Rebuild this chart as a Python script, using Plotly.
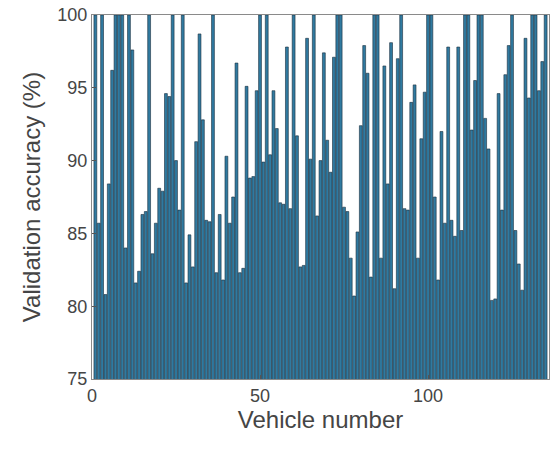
import plotly.graph_objects as go

accuracy = [
    # 1-25
    100, 85.7, 100, 80.8, 88.4, 96.2, 100, 100, 100, 84.0,
    100, 97.6, 81.6, 82.4, 86.3, 86.5, 100, 83.6, 85.7, 88.1,
    87.9, 94.6, 94.4, 100, 90.0,
    # 26-55
    86.6, 100, 81.6, 84.9, 82.7, 91.3, 98.7, 92.8, 85.9, 85.8,
    100, 82.3, 86.3, 81.8, 90.3, 85.7, 87.5, 96.7, 82.3, 82.6,
    95.1, 88.8, 88.9, 94.8, 100, 89.9, 100, 90.4, 94.8, 92.2,
    # 56-84
    87.1, 87.0, 97.8, 86.7, 100, 91.7, 82.7, 82.8, 98.4, 90.1,
    100, 86.2, 90.0, 97.4, 91.4, 89.2, 97.1, 100, 100, 86.8,
    86.5, 83.3, 80.7, 85.1, 92.4, 97.9, 96.0, 82.0, 100,
    # 85-111
    100, 83.3, 96.5, 88.4, 98.1, 81.2, 97.0, 100, 86.7, 86.6,
    94.0, 95.2, 83.3, 91.5, 94.7, 100, 100, 87.5, 81.8, 92.0,
    85.7, 97.8, 85.9, 84.8, 97.8, 85.2, 100,
    # 112-135
    100, 92.1, 95.5, 100, 100, 92.9, 90.8, 80.4, 80.5, 94.6,
    86.6, 95.9, 97.9, 100, 85.2, 82.9, 81.1, 98.4, 94.3, 100,
    100, 94.8, 96.8, 100,
]
vehicles = list(range(1, len(accuracy) + 1))
x_ticks = [0, 50, 100]
y_ticks = [75, 80, 85, 90, 95, 100]

fig = go.Figure(
    go.Bar(
        x=vehicles,
        y=accuracy,
        width=0.85,
        marker=dict(color="rgb(48,122,160)", line=dict(color="rgb(25,45,60)", width=0.6)),
    )
)

text_color = "#454545"
fig.update_layout(
    width=550,
    height=452,
    margin=dict(l=92, r=1, t=15, b=73),
    paper_bgcolor="white",
    plot_bgcolor="white",
    showlegend=False,
    font=dict(family="Liberation Sans, Arial, sans-serif", size=18, color=text_color),
)
fig.update_xaxes(
    range=[0, 136],
    tickvals=x_ticks,
    ticks="inside",
    ticklen=4,
    tickcolor="#555555",
    showgrid=False,
    zeroline=False,
    showline=True,
    linecolor="#8a8a8a",
    linewidth=1,
    mirror=True,
    title=dict(text="Vehicle number", font=dict(size=24, color=text_color), standoff=1),
    tickfont=dict(size=18, color=text_color),
)
fig.update_yaxes(
    range=[75, 100],
    tickvals=y_ticks,
    ticks="inside",
    ticklen=4,
    tickcolor="#555555",
    showgrid=False,
    zeroline=False,
    showline=True,
    linecolor="#8a8a8a",
    linewidth=1,
    mirror=True,
    title=dict(text="Validation accuracy (%)", font=dict(size=24, color=text_color), standoff=9),
    tickfont=dict(size=18, color=text_color),
)

fig.write_html("out.html")
